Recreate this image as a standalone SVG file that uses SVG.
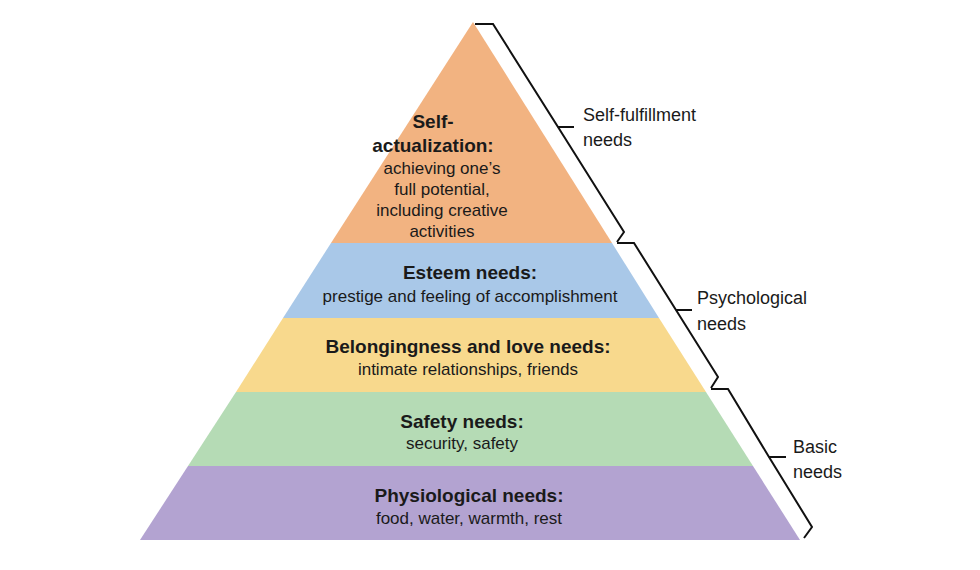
<svg xmlns="http://www.w3.org/2000/svg" width="980" height="570" viewBox="0 0 980 570">
<style>
text{font-family:"Liberation Sans",Arial,sans-serif;fill:#1a1a1a;text-anchor:middle}
.b{font-weight:bold;font-size:19px}
.n{font-size:17px}
.l{font-size:18px;text-anchor:start}
.br{fill:none;stroke:#111;stroke-width:2;stroke-linejoin:miter}
</style>
<rect width="980" height="570" fill="#fff"/>
<g id="self-actualization">
<polygon points="473,22 612,243 331,243" fill="#f2b381"/>
<text class="b" x="433" y="128">Self-</text>
<text class="b" x="433" y="152">actualization:</text>
<text class="n" x="442" y="174">achieving one’s</text>
<text class="n" x="442" y="195">full potential,</text>
<text class="n" x="442" y="216">including creative</text>
<text class="n" x="442" y="237">activities</text>
</g>
<g id="esteem">
<polygon points="612,243 659,318 283,318 331,243" fill="#a9c8e8"/>
<text class="b" x="470" y="279">Esteem needs:</text>
<text class="n" x="470" y="302">prestige and feeling of accomplishment</text>
</g>
<g id="belonging">
<polygon points="659,318 706,392 236,392 283,318" fill="#f8d98d"/>
<text class="b" x="468" y="353">Belongingness and love needs:</text>
<text class="n" x="468" y="375">intimate relationships, friends</text>
</g>
<g id="safety">
<polygon points="706,392 753,466 188,466 236,392" fill="#b5dbb5"/>
<text class="b" x="462" y="428">Safety needs:</text>
<text class="n" x="462" y="449">security, safety</text>
</g>
<g id="physiological">
<polygon points="753,466 800,540 140,540 188,466" fill="#b3a3d1"/>
<text class="b" x="469" y="502">Physiological needs:</text>
<text class="n" x="469" y="524">food, water, warmth, rest</text>
</g>
<g id="connectors">
<path class="br" d="M475,24 H493 L558,127 H574 M558,127 L624,232 L617,242"/>
<path class="br" d="M617,243 H634 L676,310 H692 M676,310 L718,377 L711,388"/>
<path class="br" d="M711,389 H728 L769,457 H786 M769,457 L812,527 L804,538"/>
</g>
<g id="labels">
<text class="l" x="583" y="121">Self-fulfillment</text>
<text class="l" x="583" y="146">needs</text>
<text class="l" x="697" y="304">Psychological</text>
<text class="l" x="697" y="330">needs</text>
<text class="l" x="793" y="453">Basic</text>
<text class="l" x="793" y="478">needs</text>
</g>
</svg>
